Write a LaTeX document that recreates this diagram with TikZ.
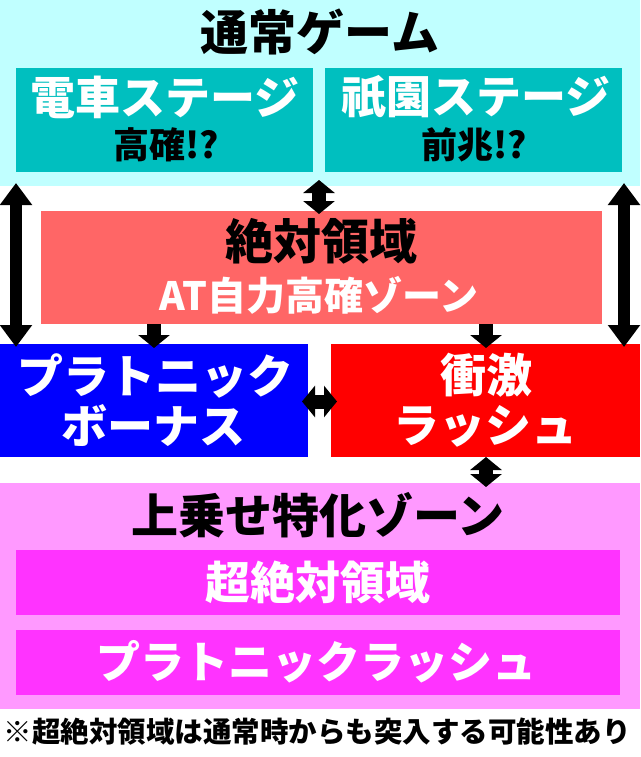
\documentclass[tikz,border=0pt]{standalone}
\usepackage{fontspec}
\newfontfamily\jp{Noto Sans CJK JP}[BoldFont={Noto Sans CJK JP Black}]
\usetikzlibrary{arrows.meta,calc}
\definecolor{cyanbg}{HTML}{C0FFFF}
\definecolor{tealbox}{HTML}{00BFBF}
\definecolor{salmon}{HTML}{FF6666}
\definecolor{bluebox}{HTML}{0000FF}
\definecolor{redbox}{HTML}{FF0000}
\definecolor{pinkbg}{HTML}{FF99FF}
\definecolor{magbox}{HTML}{FF33FF}
\newcommand{\fs}[1]{\fontsize{#1pt}{#1pt}\selectfont}
\tikzset{
  panel/.style={inner sep=0pt, outer sep=0pt, draw=none, anchor=north west},
  txt/.style={inner sep=0pt, outer sep=0pt, font=\jp\bfseries},
  dbig/.style={line width=12pt, {Triangle[width=31pt,length=22pt]}-{Triangle[width=31pt,length=22pt]}},
  dsmall/.style={line width=14pt, {Triangle[width=31pt,length=13pt]}-{Triangle[width=31pt,length=13pt]}},
  ssmall/.style={line width=14pt, -{Triangle[width=31pt,length=13pt]}},
}
\begin{document}
\begin{tikzpicture}[x=1pt,y=-1pt]
\useasboundingbox (0,0) rectangle (640,757);
\fill[white] (0,0) rectangle (640,757);
% panels
\node[panel, fill=cyanbg, minimum width=640pt, minimum height=186pt] (normal) at (0,0) {};
\node[panel, fill=tealbox, minimum width=297pt, minimum height=104pt] (stageL) at (16,68) {};
\node[panel, fill=tealbox, minimum width=297pt, minimum height=104pt] (stageR) at (325,68) {};
\node[panel, fill=salmon, minimum width=561pt, minimum height=113pt] (zone) at (41,211) {};
\node[panel, fill=bluebox, minimum width=308pt, minimum height=113pt] (bonus) at (0,344) {};
\node[panel, fill=redbox, minimum width=309pt, minimum height=113pt] (rush) at (331,344) {};
\node[panel, fill=pinkbg, minimum width=640pt, minimum height=226pt] (uwa) at (0,483) {};
\node[panel, fill=magbox, minimum width=604pt, minimum height=65pt] (super) at (16,550) {};
\node[panel, fill=magbox, minimum width=604pt, minimum height=65pt] (prush) at (16,630) {};
% texts
\node[txt, font=\jp\bfseries\fs{48}] (tNormal) at (320,32) {通常ゲーム};
\node[txt, font=\jp\bfseries\fs{45}, text=white] (tStageL1) at (165,97) {電車ステージ};
\node[txt, font=\jp\bfseries\fs{36}] (tStageL2) at (166,145) {高確!?};
\node[txt, font=\jp\bfseries\fs{45}, text=white] (tStageR1) at (476,97) {祇園ステージ};
\node[txt, font=\jp\bfseries\fs{36}] (tStageR2) at (474,145) {前兆!?};
\node[txt, font=\jp\bfseries\fs{48}] (tZone1) at (321,241) {絶対領域};
\node[txt, font=\jp\bfseries\fs{39}, text=white] (tZone2) at (319,295) {AT自力高確ゾーン};
\node[txt, font=\jp\bfseries\fs{46}, text=white] (tBonus1) at (155,376) {プラトニック};
\node[txt, font=\jp\bfseries\fs{46}, text=white] (tBonus2) at (153,426) {ボーナス};
\node[txt, font=\jp\bfseries\fs{46}, text=white] (tRush1) at (486,375) {衝激};
\node[txt, font=\jp\bfseries\fs{46}, text=white] (tRush2) at (485,426) {ラッシュ};
\node[txt, font=\jp\bfseries\fs{47}] (tUwa) at (318,515) {上乗せ特化ゾーン};
\node[txt, font=\jp\bfseries\fs{45}, text=white] (tSuper) at (318,582) {超絶対領域};
\node[txt, font=\jp\bfseries\fs{44}, text=white] (tPrush) at (316,662) {プラトニックラッシュ};
\node[txt, font=\jp\bfseries\fs{28.5}] (tNote) at (317,732) {※超絶対領域は通常時からも突入する可能性あり};
% connectors
\coordinate (lTop) at ($(normal.south west)+(16,-3)$);
\coordinate (lBot) at ($(bonus.north west)+(16,3)$);
\draw[dbig] (lTop) -- (lBot);
\coordinate (rTop) at ($(normal.south east)+(-16,-3)$);
\coordinate (rBot) at ($(rush.north east)+(-16,3)$);
\draw[dbig] (rTop) -- (rBot);
\coordinate (mTop) at ($(normal.south west)+(319,-6)$);
\coordinate (mBot) at ($(zone.north west)+(278,3)$);
\draw[dsmall] (mTop) -- (mBot);
\coordinate (dLa) at ($(zone.south west)+(113,0)$);
\coordinate (dLb) at ($(bonus.north west)+(154,4)$);
\draw[ssmall] (dLa) -- (dLb);
\coordinate (dRa) at ($(zone.south west)+(445,0)$);
\coordinate (dRb) at ($(rush.north west)+(155,4)$);
\draw[ssmall] (dRa) -- (dRb);
\coordinate (hL) at ($(bonus.east)+(-6,1)$);
\coordinate (hR) at ($(rush.west)+(6,1)$);
\draw[dsmall] (hL) -- (hR);
\coordinate (bTop) at ($(rush.south west)+(155,0)$);
\coordinate (bBot) at ($(uwa.north west)+(486,4)$);
\draw[dsmall] (bTop) -- (bBot);
\end{tikzpicture}
\end{document}
